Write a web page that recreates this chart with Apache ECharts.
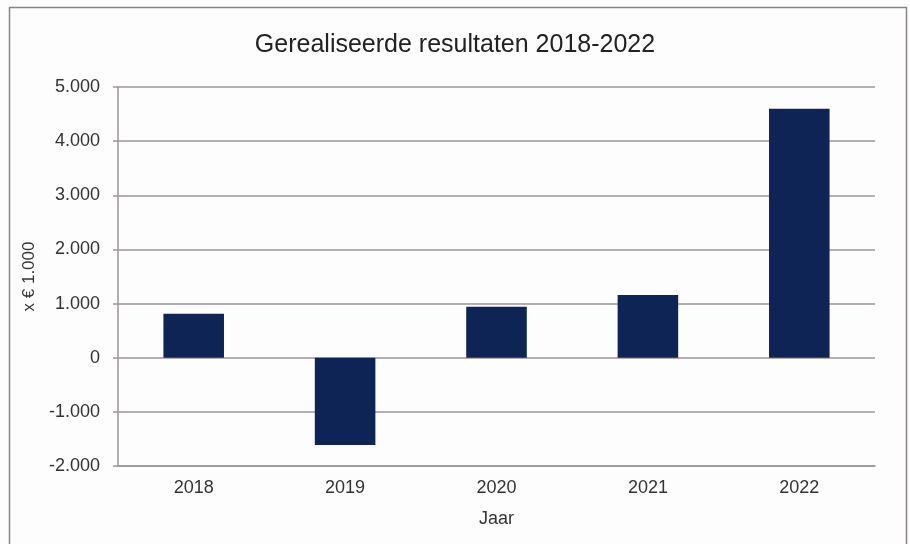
<!DOCTYPE html>
<html>
<head>
<meta charset="utf-8">
<script src="https://cdn.jsdelivr.net/npm/echarts@6/dist/echarts.min.js"></script>
<style>
  html, body { margin: 0; padding: 0; background: #fdfdfe; }
  #chart { width: 910px; height: 544px; }
</style>
</head>
<body>
<div id="chart"></div>
<script>
// jaren en resultaten (x € 1.000)
const years = ["2018", "2019", "2020", "2021", "2022"];
const results = [810, -1610, 940, 1160, 4600];

const fmt = v => {
  const s = Math.abs(v).toString().replace(/\B(?=(\d{3})+(?!\d))/g, ".");
  return v < 0 ? "-" + s : s;
};

const chart = echarts.init(document.getElementById("chart"));
const lineColor = "#9c949c";
const textColor = "#333";
const font = "Liberation Sans";

chart.setOption({
  backgroundColor: "#fdfdfe",
  animation: false,
  title: {
    text: "Gerealiseerde resultaten 2018-2022",
    left: "center",
    top: 28,
    textStyle: {
      fontFamily: font,
      fontSize: 25,
      fontWeight: "normal",
      color: "#222"
    }
  },
  graphic: [
    {
      type: "rect",
      shape: { x: 9.5, y: 7.5, width: 897, height: 545 },
      style: { fill: null, stroke: "#8a8288", lineWidth: 1.5 },
      silent: true
    }
  ],
  grid: {
    left: 118,
    right: 35,
    top: 87,
    bottom: 78
  },
  xAxis: {
    type: "category",
    data: years,
    name: "Jaar",
    nameLocation: "middle",
    nameGap: 44,
    nameTextStyle: { fontFamily: font, fontSize: 18, color: textColor },
    axisLine: { onZero: false, lineStyle: { color: lineColor, width: 1.5 } },
    axisTick: { show: false },
    axisLabel: {
      fontFamily: font,
      fontSize: 18,
      color: textColor,
      margin: 13
    }
  },
  yAxis: {
    type: "value",
    min: -2000,
    max: 5000,
    interval: 1000,
    name: "x € 1.000",
    nameLocation: "middle",
    nameRotate: 90,
    nameGap: 77,
    nameTextStyle: { fontFamily: font, fontSize: 17, color: textColor },
    axisLine: { show: true, lineStyle: { color: lineColor, width: 1.5 } },
    axisTick: { show: true, length: 5, lineStyle: { color: lineColor, width: 1.5 } },
    axisLabel: {
      fontFamily: font,
      fontSize: 18,
      color: textColor,
      margin: 18,
      formatter: fmt
    },
    splitLine: { lineStyle: { color: lineColor, width: 1.5 } }
  },
  series: [
    {
      type: "bar",
      data: results,
      barWidth: "40%",
      itemStyle: { color: "#0d2455" }
    }
  ]
});
</script>
</body>
</html>
